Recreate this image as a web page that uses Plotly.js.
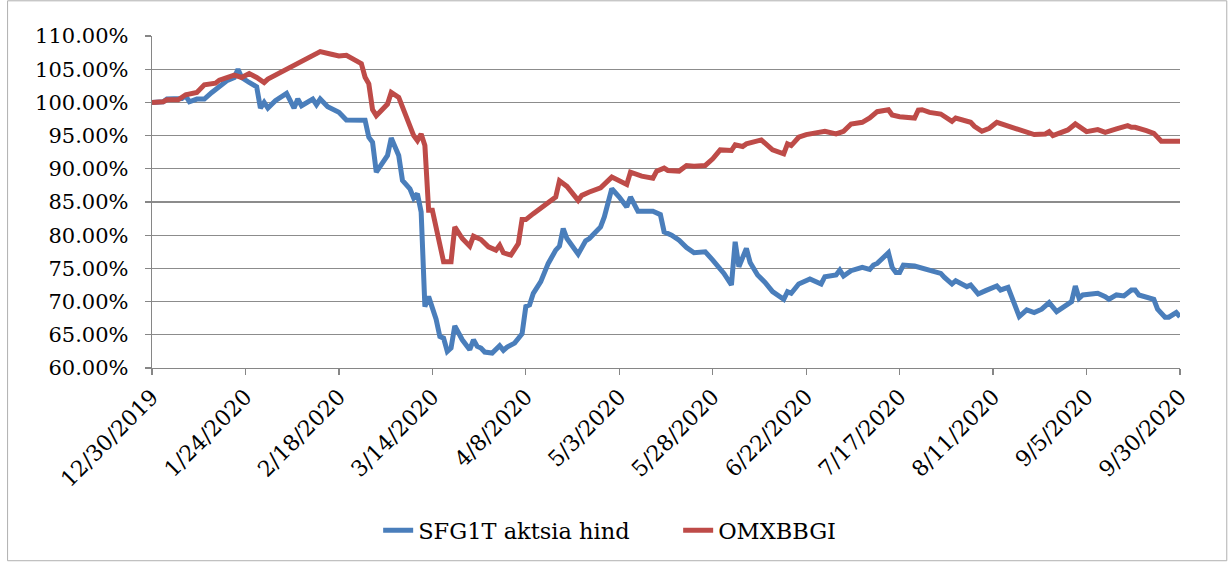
<!DOCTYPE html>
<html>
<head>
<meta charset="utf-8">
<script src="https://cdn.plot.ly/plotly-3.0.1.min.js"></script>
<style>
  html, body { margin: 0; padding: 0; background: #ffffff; }
  #chart { width: 1229px; height: 564px; }
</style>
</head>
<body>
<div id="chart"></div>
<script>
// ---- Data (values in percent of 12/30/2019 level) ----
const seriesNames = ["SFG1T aktsia hind", "OMXBBGI"];

const sfgDates = [
  "2019-12-30","2020-01-02","2020-01-03","2020-01-07","2020-01-08","2020-01-09","2020-01-11","2020-01-13",
  "2020-01-15","2020-01-17","2020-01-19","2020-01-21","2020-01-22","2020-01-23","2020-01-24","2020-01-25",
  "2020-01-27","2020-01-28","2020-01-29","2020-01-30","2020-02-01","2020-02-04","2020-02-06","2020-02-07",
  "2020-02-08","2020-02-10","2020-02-11","2020-02-12","2020-02-13","2020-02-15","2020-02-18","2020-02-20",
  "2020-02-24","2020-02-25","2020-02-26","2020-02-27","2020-02-28","2020-03-02","2020-03-03","2020-03-05",
  "2020-03-06","2020-03-08","2020-03-09","2020-03-10","2020-03-11","2020-03-12","2020-03-13","2020-03-15",
  "2020-03-16","2020-03-17","2020-03-18","2020-03-19","2020-03-20","2020-03-22","2020-03-24","2020-03-25",
  "2020-03-26","2020-03-27","2020-03-28","2020-03-30","2020-04-01","2020-04-02","2020-04-03","2020-04-05",
  "2020-04-07","2020-04-08","2020-04-09","2020-04-10","2020-04-12","2020-04-13","2020-04-14","2020-04-16",
  "2020-04-17","2020-04-18","2020-04-19","2020-04-22","2020-04-24","2020-04-25","2020-04-28","2020-04-29",
  "2020-05-01","2020-05-03","2020-05-05","2020-05-06","2020-05-07","2020-05-08","2020-05-12","2020-05-14",
  "2020-05-15","2020-05-17","2020-05-19","2020-05-21","2020-05-23","2020-05-26","2020-05-28","2020-05-31",
  "2020-06-02","2020-06-03","2020-06-04","2020-06-06","2020-06-07","2020-06-09","2020-06-11","2020-06-13",
  "2020-06-16","2020-06-17","2020-06-18","2020-06-20","2020-06-23","2020-06-26","2020-06-27","2020-06-30",
  "2020-07-01","2020-07-02","2020-07-04","2020-07-07","2020-07-09","2020-07-10","2020-07-11","2020-07-14",
  "2020-07-15","2020-07-16","2020-07-17","2020-07-18","2020-07-21","2020-07-23","2020-07-24","2020-07-28",
  "2020-07-29","2020-07-31","2020-08-01","2020-08-04","2020-08-05","2020-08-07","2020-08-09","2020-08-12",
  "2020-08-13","2020-08-15","2020-08-18","2020-08-20","2020-08-22","2020-08-24","2020-08-26","2020-08-28",
  "2020-08-30","2020-09-01","2020-09-02","2020-09-03","2020-09-04","2020-09-08","2020-09-10","2020-09-11",
  "2020-09-13","2020-09-15","2020-09-17","2020-09-18","2020-09-19","2020-09-23","2020-09-24","2020-09-26",
  "2020-09-27","2020-09-29","2020-09-30"
];
const sfgValues = [
  100.0,100.1,100.5,100.6,101.0,100.1,100.5,100.5,
  101.5,102.5,103.25,103.75,105.0,103.75,103.25,103.0,
  102.35,99.15,100.0,99.15,100.25,101.35,99.15,100.5,
  99.5,100.15,100.5,99.65,100.5,99.35,98.5,97.35,
  97.35,97.3,94.75,94.0,89.5,92.0,94.65,92.0,
  88.25,87.0,85.6,86.25,83.5,69.25,70.75,67.35,
  64.75,64.5,62.5,63.0,66.35,64.25,62.75,64.25,
  63.25,63.0,62.4,62.25,63.35,62.65,63.15,63.75,
  65.15,69.25,69.5,71.25,73.0,74.35,75.75,77.75,
  78.35,81.0,79.5,77.15,79.15,79.5,81.25,82.75,
  87.0,85.75,84.25,85.75,84.75,83.6,83.6,83.1,
  80.5,80.0,79.25,78.15,77.35,77.5,76.25,74.25,
  72.5,79.0,75.25,78.0,75.9,74.0,72.9,71.5,
  70.35,71.5,71.25,72.65,73.4,72.65,73.75,74.0,
  74.75,73.85,74.65,75.15,74.85,75.5,75.75,77.35,
  75.15,74.4,74.4,75.5,75.35,75.0,75.0,74.25,
  73.65,72.65,73.15,72.25,72.5,71.15,71.65,72.35,
  71.75,72.15,67.75,68.75,68.35,68.85,69.85,68.5,
  69.25,70.0,72.35,70.5,71.0,71.25,70.75,70.35,
  71.0,70.85,71.75,71.75,71.0,70.35,68.85,67.65,
  67.65,68.35,67.7
];

const omxDates = [
  "2019-12-30","2020-01-02","2020-01-03","2020-01-06","2020-01-08","2020-01-10","2020-01-11","2020-01-13",
  "2020-01-16","2020-01-17","2020-01-21","2020-01-23","2020-01-25","2020-01-27","2020-01-29","2020-01-30",
  "2020-02-01","2020-02-03","2020-02-05","2020-02-08","2020-02-10","2020-02-13","2020-02-16","2020-02-18",
  "2020-02-20","2020-02-22","2020-02-24","2020-02-25","2020-02-26","2020-02-27","2020-02-28","2020-03-02",
  "2020-03-03","2020-03-05","2020-03-07","2020-03-09","2020-03-10","2020-03-11","2020-03-12","2020-03-13",
  "2020-03-14","2020-03-17","2020-03-19","2020-03-20","2020-03-22","2020-03-24","2020-03-25","2020-03-27",
  "2020-03-29","2020-03-31","2020-04-01","2020-04-02","2020-04-04","2020-04-06","2020-04-07","2020-04-08",
  "2020-04-10","2020-04-13","2020-04-15","2020-04-16","2020-04-17","2020-04-19","2020-04-22","2020-04-23",
  "2020-04-25","2020-04-28","2020-05-01","2020-05-03","2020-05-05","2020-05-06","2020-05-09","2020-05-12",
  "2020-05-13","2020-05-15","2020-05-16","2020-05-19","2020-05-21","2020-05-23","2020-05-26","2020-05-28",
  "2020-05-30","2020-06-02","2020-06-03","2020-06-05","2020-06-06","2020-06-10","2020-06-12","2020-06-13",
  "2020-06-16","2020-06-17","2020-06-18","2020-06-20","2020-06-22","2020-06-25","2020-06-27","2020-06-30",
  "2020-07-02","2020-07-04","2020-07-07","2020-07-09","2020-07-11","2020-07-14","2020-07-15","2020-07-17",
  "2020-07-21","2020-07-22","2020-07-23","2020-07-25","2020-07-28","2020-07-31","2020-08-01","2020-08-05",
  "2020-08-06","2020-08-08","2020-08-10","2020-08-12","2020-08-15","2020-08-18","2020-08-20","2020-08-22",
  "2020-08-25","2020-08-26","2020-08-27","2020-08-29","2020-08-31","2020-09-02","2020-09-05","2020-09-08",
  "2020-09-10","2020-09-13","2020-09-16","2020-09-17","2020-09-18","2020-09-21","2020-09-23","2020-09-25",
  "2020-09-28","2020-09-30"
];
const omxValues = [
  100.0,100.1,100.4,100.4,101.15,101.5,101.5,102.65,
  102.9,103.35,104.1,103.75,104.35,103.75,103.0,103.5,
  104.1,104.5,105.15,106.0,106.65,107.65,107.25,107.0,
  107.1,106.5,105.85,103.8,102.8,98.9,98.0,99.75,
  101.5,100.75,97.75,95.0,94.25,95.25,93.5,83.75,
  83.75,76.0,76.0,81.25,79.5,78.35,79.85,79.35,
  78.25,77.75,78.5,77.35,77.0,78.75,82.35,82.35,
  83.25,84.5,85.5,85.75,88.2,87.35,85.25,86.0,
  86.5,87.15,88.75,88.25,87.65,89.5,88.9,88.6,
  89.65,90.1,89.75,89.65,90.5,90.4,90.5,91.5,
  92.85,92.75,93.6,93.35,93.75,94.35,93.2,92.85,
  92.25,93.75,93.5,94.75,95.15,95.5,95.65,95.25,
  95.65,96.75,97.0,97.65,98.6,98.9,98.1,97.85,
  97.65,98.85,98.9,98.5,98.25,97.15,97.65,97.0,
  96.4,95.65,96.1,97.0,96.5,96.0,95.65,95.15,
  95.25,95.6,95.0,95.35,95.85,96.75,95.6,95.9,
  95.5,96.0,96.5,96.25,96.25,95.75,95.35,94.15,
  94.25,94.15
];

const yTickValues = [60, 65, 70, 75, 80, 85, 90, 95, 100, 105, 110];
const yTickLabels = ["60.00%","65.00%","70.00%","75.00%","80.00%","85.00%","90.00%","95.00%","100.00%","105.00%","110.00%"];
const xStart = "2019-12-30";
const xEnd = "2020-09-30";
const xTickStepDays = 25;

// ---- Styling ----
const FONT = "DejaVu Serif";
const DAY_MS = 86400000;

const traces = [
  {
    x: sfgDates, y: sfgValues, name: seriesNames[0],
    type: "scatter", mode: "lines",
    line: { color: "#4A7EBB", width: 5 }
  },
  {
    x: omxDates, y: omxValues, name: seriesNames[1],
    type: "scatter", mode: "lines",
    line: { color: "#BE4B48", width: 5 }
  }
];

const layout = {
  width: 1229, height: 564,
  margin: { l: 152, r: 49, t: 36, b: 196 },
  paper_bgcolor: "#ffffff",
  plot_bgcolor: "#ffffff",
  font: { family: FONT, size: 22, color: "#000000" },
  showlegend: true,
  legend: {
    orientation: "h",
    x: 0.22, xanchor: "left",
    y: -0.49, yanchor: "middle",
    entrywidth: 255, entrywidthmode: "pixels",
    font: { family: FONT, size: 22.5, color: "#000000" },
    bgcolor: "rgba(0,0,0,0)"
  },
  xaxis: {
    type: "date",
    range: [xStart, xEnd],
    tick0: xStart,
    dtick: xTickStepDays * DAY_MS,
    tickformat: "%-m/%-d/%Y",
    tickangle: -45,
    ticks: "outside", ticklen: 6, tickwidth: 1.3, tickcolor: "#868686",
    showline: true, linecolor: "#868686", linewidth: 1.3,
    showgrid: false, zeroline: false,
    tickfont: { family: FONT, size: 22, color: "#000000" },
    fixedrange: true
  },
  yaxis: {
    range: [60, 110],
    tickmode: "array",
    tickvals: yTickValues,
    ticktext: yTickLabels,
    ticks: "outside", ticklen: 6, tickwidth: 1.3, tickcolor: "#868686",
    ticklabelstandoff: 12,
    showline: true, linecolor: "#868686", linewidth: 1.3,
    showgrid: true, gridcolor: "#8c8c8c", gridwidth: 1.3,
    zeroline: false,
    tickfont: { family: FONT, size: 21, color: "#000000" },
    fixedrange: true
  },
  shapes: [
    {
      type: "rect", xref: "paper", yref: "paper",
      x0: -0.1405, x1: 1.0455, y0: -0.5805, y1: 1.106,
      line: { color: "#b0b0b0", width: 1 },
      fillcolor: "rgba(0,0,0,0)", layer: "below"
    }
  ]
};

Plotly.newPlot("chart", traces, layout, { displayModeBar: false, staticPlot: true });
</script>
</body>
</html>
